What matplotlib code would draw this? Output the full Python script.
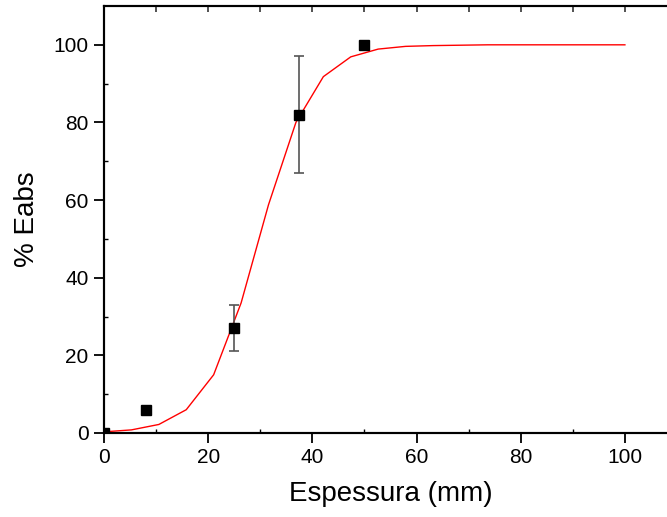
import numpy as np
import matplotlib.pyplot as plt

plt.rcParams['font.family'] = ['Liberation Sans', 'DejaVu Sans']

# measured points
esp = [0, 8, 25, 37.5, 50]
eabs = [0, 6, 27, 82, 100]
err = [0, 0, 6, 15, 0]

# fitted curve
fit_x = [0, 5.26, 10.53, 15.79, 21.05, 26.32, 31.58, 36.84, 42.11, 47.37,
         52.63, 57.89, 63.16, 68.42, 73.68, 78.95, 84.21, 89.47, 94.74, 100]
fit_y = [0.3, 0.8, 2.2, 6.0, 15.0, 33.5, 58.8, 80.0, 91.8, 96.9,
         98.9, 99.6, 99.8, 99.9, 100, 100, 100, 100, 100, 100]

fig = plt.figure(figsize=(6.67, 5.17), dpi=100)
ax = fig.add_axes([104/667, 84/517, 573/667, 427/517])

ax.plot(fit_x, fit_y, color='red', lw=1.0, zorder=2)
ax.errorbar(esp[2:4], eabs[2:4], yerr=err[2:4], fmt='none', ecolor='#555555',
            elinewidth=1.2, capsize=3.5, capthick=1.2, zorder=3)
ax.plot(esp, eabs, 's', color='black', ms=6.5, zorder=4)

ax.set_xlim(0, 110)
ax.set_ylim(0, 110)
ax.set_xticks([0, 20, 40, 60, 80, 100])
ax.set_yticks([0, 20, 40, 60, 80, 100])
ax.set_xticks(np.arange(10, 110, 20), minor=True)
ax.set_yticks(np.arange(10, 110, 20), minor=True)

for s in ax.spines.values():
    s.set_linewidth(1.5)

ax.tick_params(which='major', direction='out', length=7, width=1.3,
               labelsize=15, pad=4)
ax.tick_params(which='minor', direction='in', length=3, width=1.0)

# ticks along the top edge
top = ax.twiny()
top.set_xlim(ax.get_xlim())
top.set_xticks(np.arange(10, 110, 10))
top.tick_params(direction='in', length=4, width=1.2, labeltop=False,
                color='#333333')
for s in top.spines.values():
    s.set_linewidth(1.5)

ax.set_xlabel('Espessura (mm)', fontsize=20, labelpad=10)
ax.set_ylabel('% Eabs', fontsize=20, labelpad=10)

fig.savefig('out.png', dpi=100)
